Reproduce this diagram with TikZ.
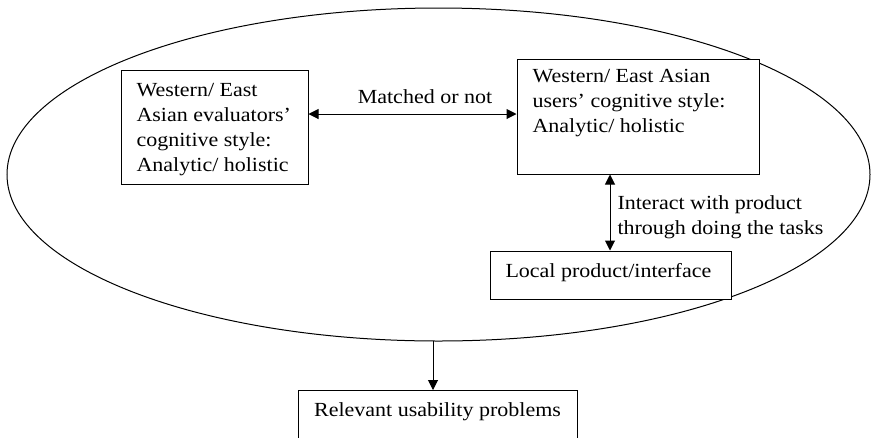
\documentclass[tikz,border=0pt]{standalone}
\usepackage{fontspec}
\setmainfont{Liberation Serif}[FakeStretch=1.1]
\usetikzlibrary{arrows.meta,shapes.geometric,calc}
\begin{document}
\begin{tikzpicture}[x=0.75pt,y=-0.75pt,
  line width=0.75pt,
  every node/.style={font=\fontsize{15}{18.75}\selectfont},
  box/.style={draw,fill=white,rectangle,inner sep=0pt,line width=0.75pt},
  lbl/.style={inner sep=0pt,align=left,anchor=west},
  arr/.style={-{Triangle[width=7.5pt,length=7.5pt]}},
  biarr/.style={{Triangle[width=7.5pt,length=7.5pt]}-{Triangle[width=7.5pt,length=7.5pt]}}]
  \clip (0,0) rectangle (871,437);
  % outer context ellipse
  \node[draw,ellipse,inner sep=0pt,minimum width=647.25pt,minimum height=249.75pt] (ctx) at (438.5,174.5) {};
  % boxes
  \node[box,minimum width=140.25pt,minimum height=85.5pt] (eval) at (214.5,127) {};
  \node[lbl] (evaltxt) at (136,129.5) {Western/ East\\Asian evaluators’\\cognitive style:\\Analytic/ holistic};
  \node[box,minimum width=181.5pt,minimum height=86.25pt] (users) at (638,116.5) {};
  \node[lbl] (userstxt) at (532,103) {Western/ East Asian\\users’ cognitive style:\\Analytic/ holistic};
  \node[box,minimum width=180.75pt,minimum height=36pt] (prod) at (610.5,275) {};
  \node[lbl] (prodtxt) at (505,273) {Local product/interface};
  \node[box,minimum width=209.25pt,minimum height=60pt,anchor=north] (rel) at (437.5,390) {};
  \node[inner sep=0pt] (reltxt) at (437.5,412) {Relevant usability problems};
  % connectors
  \draw[biarr] (eval.east |- 0,114) -- (users.west |- 0,114);
  \node[inner sep=0pt] (matched) at (425,97) {Matched or not};
  \draw[biarr] (users.south -| 610,0) -- (prod.north -| 610,0);
  \node[lbl] (interact) at (617,217.5) {Interact with product\\through doing the tasks};
  \coordinate (drop) at (433,341);
  \draw[arr] (drop) -- (drop |- rel.north);
\end{tikzpicture}
\end{document}
